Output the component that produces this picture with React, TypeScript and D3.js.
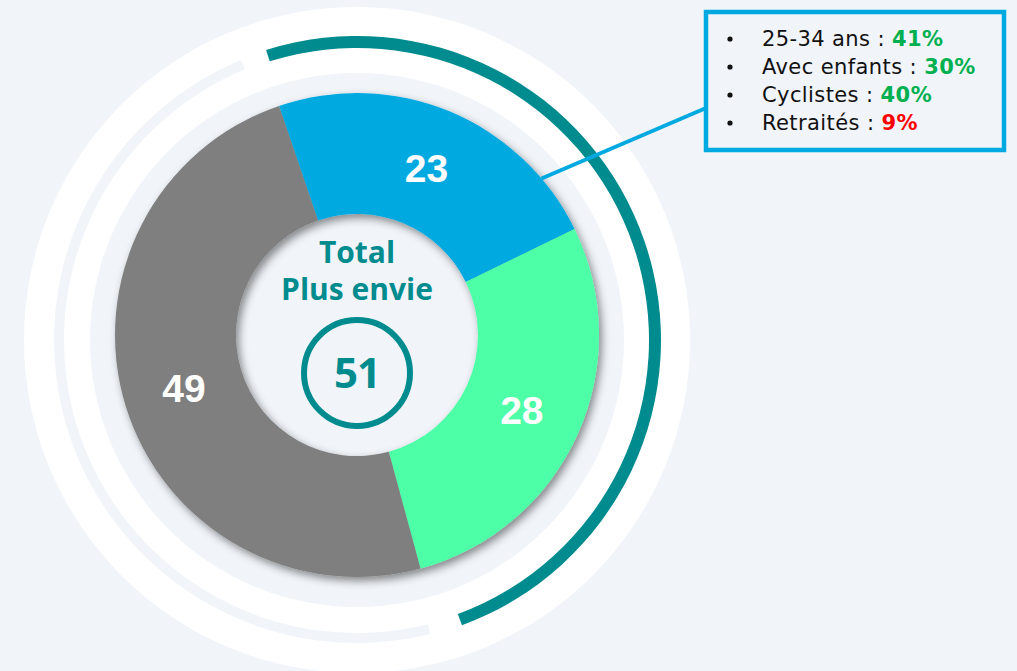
import React from "react";
import * as d3 from "d3";

// slice values (donut), clockwise from the top-left
const sliceValues = [23, 28, 49];
const sliceColors = ["#00A9E0", "#4DFFA6", "#7F7F7F"];

// centre text
const centerTitle = ["Total", "Plus envie"];
const centerValue = 51;

// callout list
const calloutLabels = ["25-34 ans", "Avec enfants", "Cyclistes", "Retraités"];
const calloutValues = [41, 30, 40, 9];
const calloutColors = ["#00B050", "#00B050", "#00B050", "#FF0000"];

const W = 1017;
const H = 671;
const BG = "#F1F5FA";
const TEAL = "#008C8F";

const rad = (deg: number) => (deg * Math.PI) / 180;

export default function App() {
  // donut geometry
  const cx = 357;
  const cy = 335;
  const rOuter = 242;
  const rInner = 121;
  // decorative rings
  const ringCy = 340;

  const pie = d3
    .pie<number>()
    .sort(null)
    .value((d) => d)
    .startAngle(rad(-18.8))
    .endAngle(rad(-18.8 + 360));
  const slices = pie(sliceValues);

  const arc = d3.arc<d3.PieArcDatum<number>>().innerRadius(rInner).outerRadius(rOuter);
  const labelArc = d3.arc<d3.PieArcDatum<number>>().innerRadius(181).outerRadius(181);

  const ring = (r0: number, r1: number, a0: number, a1: number) =>
    d3.arc()({ innerRadius: r0, outerRadius: r1, startAngle: rad(a0), endAngle: rad(a1) }) as string;

  // callout line starts on the outer edge of the blue slice
  const lineAngle = rad(49.7);
  const lx0 = cx + rOuter * Math.sin(lineAngle);
  const ly0 = cy - rOuter * Math.cos(lineAngle);

  const box = { x: 706, y: 12, w: 298, h: 138 };
  const rowY = d3.scaleLinear().domain([0, calloutLabels.length - 1]).range([box.y + 34, box.y + 118]);

  return (
    <svg
      width={W}
      height={H}
      style={{ position: "absolute", left: 0, top: 0, display: "block" }}
      fontFamily="'Open Sans', 'DejaVu Sans', sans-serif"
    >
      <defs>
        <filter id="shadow" x="-20%" y="-20%" width="140%" height="140%">
          <feDropShadow dx="3" dy="4" stdDeviation="4" floodColor="#000" floodOpacity="0.45" />
        </filter>
      </defs>
      <rect width={W} height={H} fill={BG} />

      {/* rings */}
      <g transform={`translate(${cx},${ringCy})`}>
        <circle r={333} fill="#FFFFFF" />
        <path d={ring(292, 304, -17.4, 159.8)} fill={TEAL} />
        <path d={ring(293, 303, 166, 337.5)} fill={BG} />
        <circle r={267} fill={BG} />
      </g>

      {/* donut */}
      <g transform={`translate(${cx},${cy})`}>
        <g filter="url(#shadow)">
          {slices.map((s, i) => (
            <path key={i} d={arc(s) as string} fill={sliceColors[i]} />
          ))}
        </g>
        {slices.map((s, i) => {
          const [x, y] = labelArc.centroid(s);
          return (
            <text
              key={i}
              x={x}
              y={y}
              dy="0.36em"
              textAnchor="middle"
              fill="#FFFFFF"
              fontFamily="'Liberation Sans', Arial, sans-serif"
              fontWeight="bold"
              fontSize={39}
            >
              {s.data}
            </text>
          );
        })}

        {centerTitle.map((t, i) => (
          <text
            key={t}
            x={0}
            y={-72 + i * 37}
            textAnchor="middle"
            fill={TEAL}
            fontWeight="bold"
            fontSize={30}
          >
            {t}
          </text>
        ))}
        <circle cx={0} cy={38} r={53} fill="none" stroke={TEAL} strokeWidth={6} />
        <text x={0} y={38} dy="0.36em" textAnchor="middle" fill={TEAL} fontWeight="bold" fontSize={42} letterSpacing={-1}>
          {centerValue}
        </text>
      </g>

      {/* callout */}
      <line x1={lx0} y1={ly0} x2={box.x} y2={108} stroke="#00A9E0" strokeWidth={4} />
      <rect x={box.x} y={box.y} width={box.w} height={box.h} fill={BG} stroke="#00A9E0" strokeWidth={4.5} />
      {calloutLabels.map((lab, i) => (
        <g key={lab}>
          <circle cx={730} cy={rowY(i) - 7} r={2.6} fill="#111" />
          <text x={762} y={rowY(i)} fontSize={21} letterSpacing={0.4} fill="#111" fontFamily="'DejaVu Sans', sans-serif">
            {lab} :{" "}
            <tspan fontWeight="bold" fill={calloutColors[i]}>
              {calloutValues[i]}%
            </tspan>
          </text>
        </g>
      ))}
    </svg>
  );
}
